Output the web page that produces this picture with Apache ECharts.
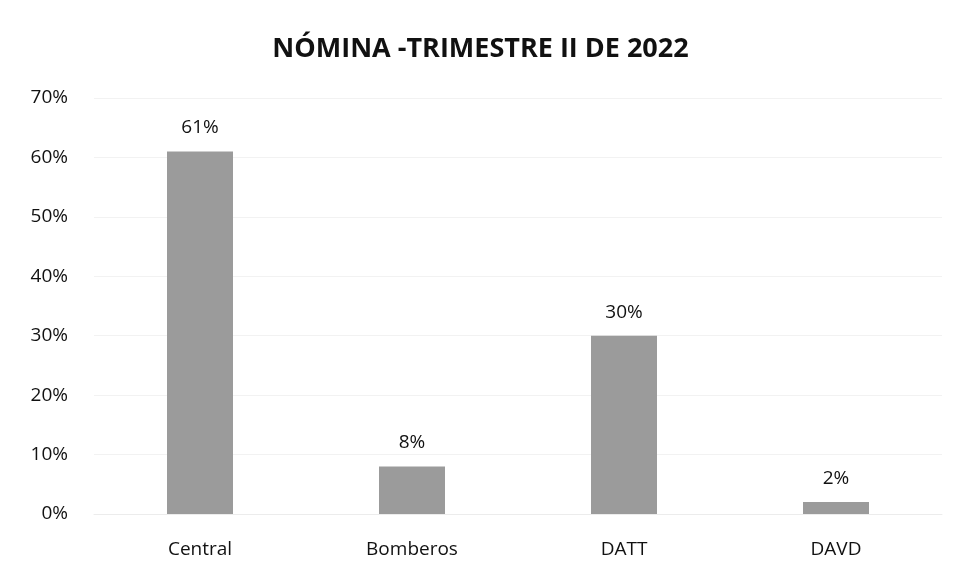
<!DOCTYPE html>
<html>
<head>
<meta charset="utf-8">
<script src="https://cdn.jsdelivr.net/npm/echarts@6/dist/echarts.min.js"></script>
<style>
	html, body { margin: 0; padding: 0; background: #fff; }
	#main { width: 961px; height: 568px; }
</style>
</head>
<body>
<div id="main"></div>
<script>
	// datos del gráfico
	var categorias = ['Central', 'Bomberos', 'DATT', 'DAVD'];
	var valores = [61, 8, 30, 2];
	var ticks = [0, 10, 20, 30, 40, 50, 60, 70];

	var myChart = echarts.init(document.getElementById('main'));

	var fuente = 'Open Sans';

	option = {
		backgroundColor: '#ffffff',
		animation: false,
		title: {
			text: 'NÓMINA -TRIMESTRE II DE 2022',
			left: 'center',
			top: 31,
			textStyle: {
				color: '#111',
				fontFamily: fuente,
				fontWeight: 'bold',
				fontSize: 27
			}
		},
		grid: {
			left: 94,
			right: 19,
			top: 98,
			bottom: 54
		},
		xAxis: {
			type: 'category',
			data: categorias,
			axisLine: { show: true, lineStyle: { color: '#ececec' } },
			axisTick: { show: false },
			axisLabel: {
				color: '#111',
				fontFamily: fuente,
				fontSize: 19,
				margin: 26
			}
		},
		yAxis: {
			type: 'value',
			min: ticks[0],
			max: ticks[ticks.length - 1],
			interval: 10,
			axisLine: { show: false },
			axisTick: { show: false },
			axisLabel: {
				color: '#111',
				fontFamily: fuente,
				fontSize: 19,
				margin: 26,
				formatter: '{value}%'
			},
			splitLine: { lineStyle: { color: '#f2f2f2' } }
		},
		series: [{
			type: 'bar',
			data: valores,
			barWidth: 66,
			itemStyle: { color: '#9b9b9b' },
			label: {
				show: true,
				position: 'top',
				distance: 14,
				color: '#111',
				fontFamily: fuente,
				fontSize: 19,
				formatter: '{c}%'
			}
		}]
	};

	myChart.setOption(option);
</script>
</body>
</html>
